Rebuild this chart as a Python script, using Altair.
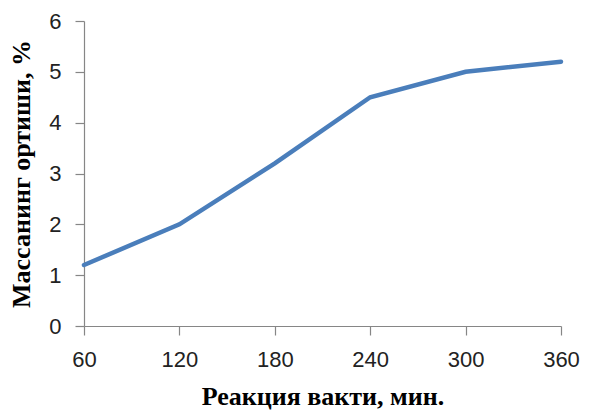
import altair as alt
import pandas as pd

time_min = [60, 120, 180, 240, 300, 360]
mass_increase = [1.2, 2.0, 3.2, 4.5, 5.0, 5.2]

df = pd.DataFrame({"t": time_min, "m": mass_increase})

chart = alt.Chart(df).mark_line(color="#4a7ebb", strokeWidth=4.5, strokeCap="round").encode(
    x=alt.X("t:Q",
            scale=alt.Scale(domain=[60, 360], nice=False, zero=False),
            axis=alt.Axis(values=time_min, title="Реакция вакти, мин.",
                          grid=False, tickSize=9, labelPadding=14,
                          titlePadding=13)),
    y=alt.Y("m:Q",
            scale=alt.Scale(domain=[0, 6], nice=False),
            axis=alt.Axis(values=[0, 1, 2, 3, 4, 5, 6], title="Массанинг ортиши, %",
                          grid=False, tickSize=9, labelPadding=14,
                          titlePadding=14)),
).properties(
    width=477, height=305,
    autosize=alt.AutoSizeParams(type="none"),
    padding={"left": 76, "top": 13, "right": 20, "bottom": 86},
).configure_view(stroke=None).configure_axis(
    domainColor="#868686", tickColor="#868686", domainWidth=1.2, tickWidth=1.2,
    labelFont="Liberation Sans", labelFontSize=22, labelColor="#222222",
    titleFont="Liberation Serif", titleFontSize=26, titleFontWeight="bold",
    titleColor="#000000", labelFlush=False,
)

chart.save("out.html", embed_options={"renderer": "svg", "actions": False})
